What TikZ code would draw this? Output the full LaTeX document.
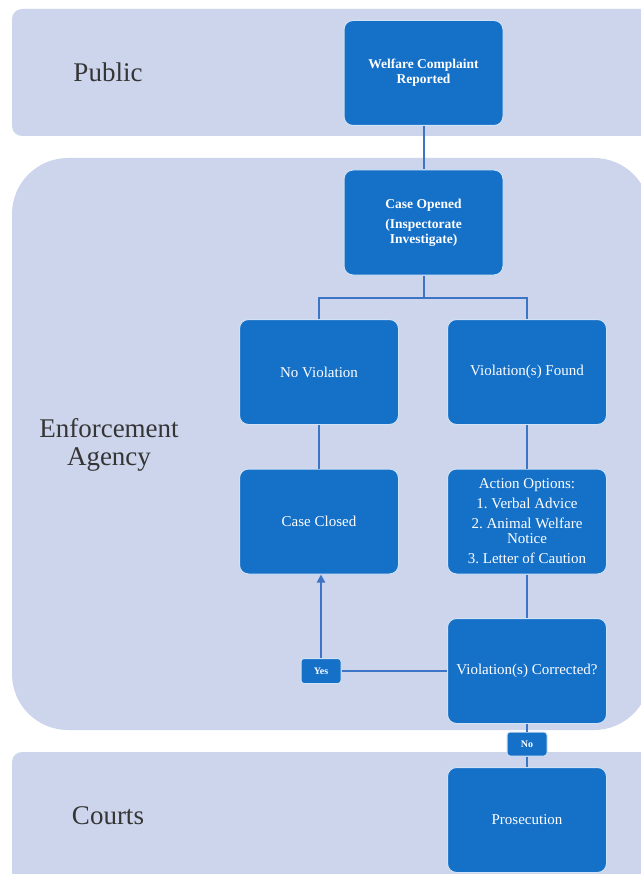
\documentclass[tikz,border=0pt]{standalone}
\usepackage{fontspec}
\setmainfont{Liberation Serif}
\usetikzlibrary{arrows.meta,calc}
\definecolor{lanec}{HTML}{CDD5EC}
\definecolor{boxc}{HTML}{1570C8}
\definecolor{linec}{HTML}{3C74C6}
\definecolor{lblc}{HTML}{353535}
\frenchspacing
\begin{document}
\begin{tikzpicture}[x=1pt,y=-1pt,
  box/.style={draw=white!80!boxc, line width=1pt, fill=boxc, rounded corners=9pt,
    text=white, font=\fontsize{15}{15}\selectfont, align=center, inner sep=0pt,
    minimum width=159pt, minimum height=105pt},
  boxb/.style={box, font=\fontsize{13.5}{15}\selectfont\bfseries},
  lanelabel/.style={text=lblc, font=\fontsize{27}{28}\selectfont, align=center},
  conn/.style={draw=linec, line width=2pt},
  tagbox/.style={draw=white!80!boxc, line width=1pt, fill=boxc, rounded corners=3pt,
    text=white, font=\fontsize{10}{11}\selectfont\bfseries, inner sep=0pt,
    minimum width=40pt, minimum height=25pt}]
\useasboundingbox (0,0) rectangle (640,874);
\fill[white] (0,0) rectangle (640,874);
% lanes
\fill[lanec, rounded corners=10pt] (12,9) rectangle (670,136);
\fill[lanec, rounded corners=56pt] (12,158) rectangle (650,730);
\fill[lanec, rounded corners=10pt] (12,752) rectangle (670,900);
\node[lanelabel] (lpub) at (108,72) {Public};
\node[lanelabel] (lenf) at (109,445) {Enforcement\\Agency};
\node[lanelabel] (lcrt) at (108,816) {Courts};
% boxes
\node[boxb] (wcr) at (423.5,73) {Welfare Complaint\\Reported};
\node[boxb] (co) at (423.5,222.5) {Case Opened\\[5pt](Inspectorate\\Investigate)};
\node[box] (nv) at (319,372) {No Violation};
\node[box] (vf) at (527,372) {Violation(s) Found};
\node[box] (cc) at (319,521.5) {Case Closed};
\node[box] (ao) at (527,521.5) {Action Options:\\[5pt]1. Verbal Advice\\[5pt]2. Animal Welfare\\Notice\\[5pt]3. Letter of Caution};
\node[box] (vc) at (527,671) {Violation(s) Corrected?};
\node[box] (pr) at (527,820) {Prosecution};
\node[tagbox] (yes) at (321,671) {Yes};
\node[tagbox, minimum height=24pt] (no) at (527,744) {No};
% connectors
\draw[conn] (wcr) -- (co);
\draw[conn] (co.south) -- ++(0,22) coordinate (j);
\draw[conn] (nv.north) |- (j) -| (vf.north);
\draw[conn] (nv) -- (cc);
\draw[conn] (vf) -- (ao);
\draw[conn] (ao) -- (vc);
\draw[conn] (vc.west) -- (yes.east);
\draw[conn, -{Triangle[width=8pt,length=8pt]}] (yes.north) -- (yes.north |- cc.south);
\draw[conn] (vc.south) -- (no.north);
\draw[conn] (no.south) -- (pr.north);
\end{tikzpicture}
\end{document}
